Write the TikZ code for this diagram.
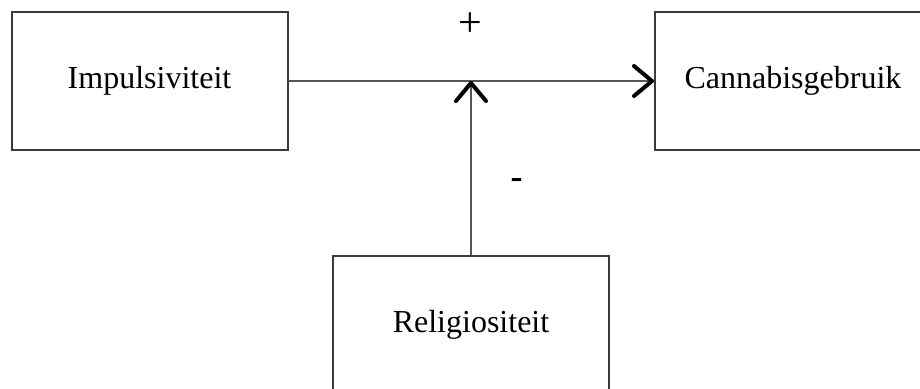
\documentclass[tikz,border=0pt]{standalone}
\usepackage{fontspec}
\setmainfont{Liberation Serif}
\usetikzlibrary{arrows.meta}

\definecolor{boxline}{HTML}{3A3A3A}
\definecolor{linkline}{HTML}{555555}

\tikzset{
  varbox/.style={draw=boxline, line width=2pt, fill=white,
    minimum width=276pt, minimum height=138pt, inner sep=0pt,
    font=\fontsize{32}{36}\selectfont, text=black},
  link/.style={draw=linkline, line width=1.4pt,
    -{Straight Barb[length=18pt, width=30pt, line width=4pt, round, color=black]}},
  sign/.style={inner sep=0pt, text=black}
}

\begin{document}
\begin{tikzpicture}[x=1pt, y=-1pt]
  \useasboundingbox (0,0) rectangle (920,388);
  \clip (0,0) rectangle (920,388);

  % the three variables
  \node[varbox] (imp) at (149.5,81) {Impulsiviteit};
  \node[varbox] (can) at (793,81) {Cannabisgebruik};
  \node[varbox] (rel) at (471,325) {Religiositeit};

  % main effect and moderation
  \coordinate (mod) at (rel.north |- imp.east);
  \draw[link] (imp.east) -- (can.west);
  \draw[link] (rel.north) -- (mod);

  % effect signs
  \node[sign, font=\fontsize{42}{44}\selectfont] (plus) at (470,25) {+};
  \node[sign, font=\bfseries\fontsize{36}{40}\selectfont] (minus) at (516.5,183.5) {-};
\end{tikzpicture}
\end{document}
